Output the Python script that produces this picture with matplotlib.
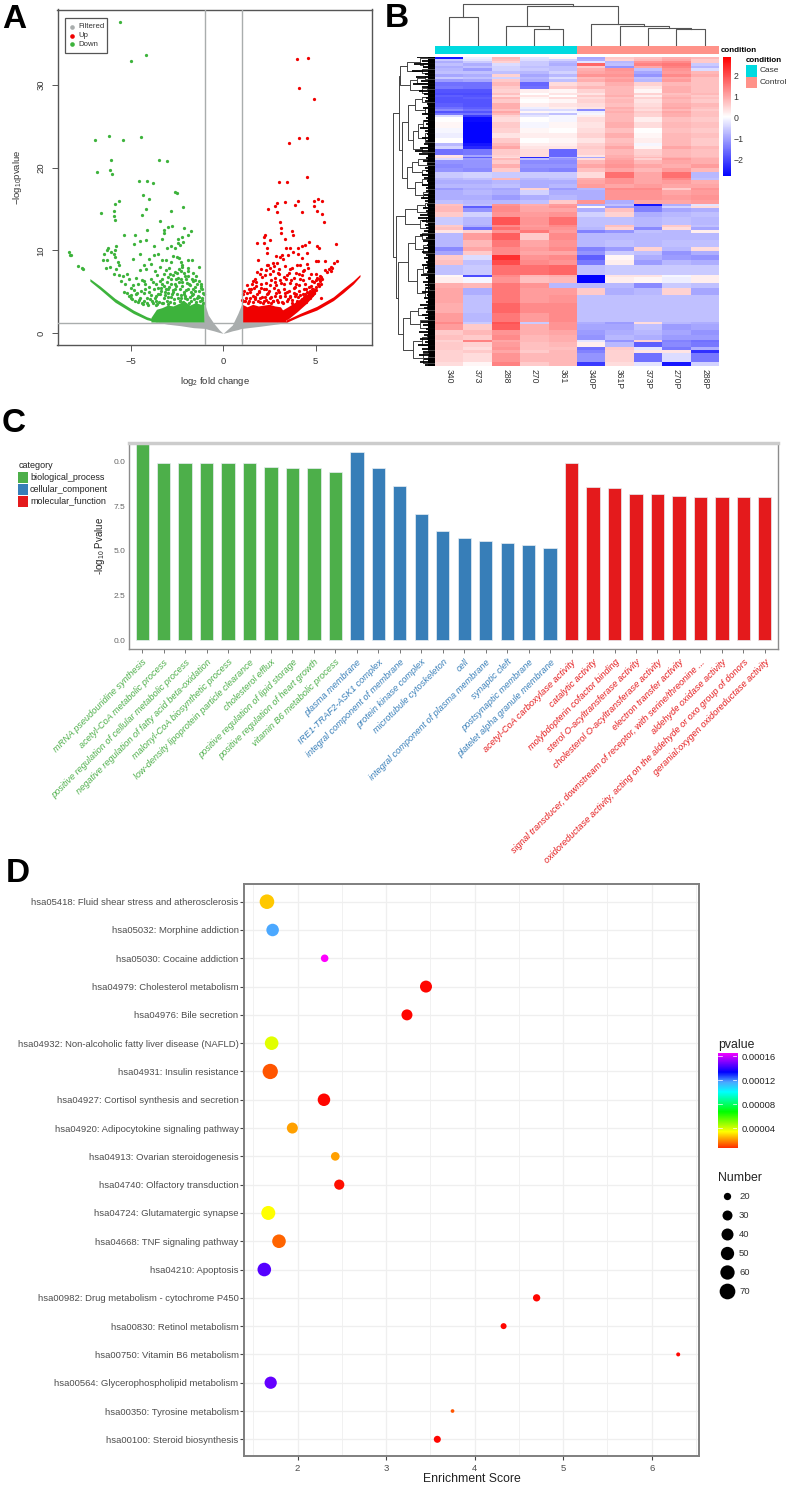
#Four panel figure: volcano, heatmap, GO bars, KEGG bubbles
import numpy as np
import matplotlib
matplotlib.use('Agg')
import matplotlib.pyplot as plt
from matplotlib.colors import LinearSegmentedColormap

plt.rcParams['font.family'] = ['Liberation Sans', 'DejaVu Sans']
plt.rcParams['mathtext.fontset'] = 'custom'
plt.rcParams['mathtext.rm'] = 'Liberation Sans'
plt.rcParams['axes.unicode_minus'] = True

W, H = 798, 1487

# ---- A: volcano ----
down_x = [-5.55,-4.14,-4.99,-6.18,-4.45,-6.9,-5.42,-6.04,-3.44,-3.01,-6.81,-6.09,-6.0,-4.54,-4.13,-3.8,-2.59,-2.47,-4.31,-4.0,
          -5.6,-5.86,-2.16,-4.14,-2.79,-5.89,-6.59,-4.38,-5.87,-5.82,-3.39,-2.74,-2.95,-3.19,-4.11,-2.11,-1.75,-1.87,-2.2,-5.37,
          -4.74,-3.2,-3.32,-4.18,-4.47,-2.45,-2.45,-4.79,-3.73,-5.8,-5.84,-6.2,-2.79,-2.18,-2.32,-2.59,-3.05,-6.3,-6.05,-6.45,
          -5.9,-5.85,-6.5,-6.25,-5.7,-4.85,-4.5,-4.0,-3.75,-3.5,-3.3,-3.1,-2.8,-2.7,-2.5,-2.4,-2.3,-2.2,-1.9,-1.7,
          -1.3,-6.35,-6.1,-5.8,-5.6,-5.9,-5.6,-5.4,-5.2,-5.1,-5.5,-5.3,-5.0,-4.8,-4.5,-4.3,-4.15,-3.9,-3.7,-3.4,
          -3.2,-3.0,-2.9,-2.6,-2.4,-2.1,-1.9,-1.5,-1.2,-1.6,-1.9,-2.2,-4.7,-4.4,-4.2,-4.0,-3.8,-3.5,-3.3,-3.1,
          -2.8,-2.6,-2.4,-2.2,-2.0,-1.8,-1.5,-1.2,-5.2,-5.0,-4.7,-4.5,-4.3,-4.1,-3.9,-3.7,-3.4,-3.2,-3.0,-2.8,
          -2.5,-2.3,-2.1,-1.8,-1.6,-1.3,-1.1,-4.9,-4.6,-4.35,-4.1,-3.8,-3.6,-5.35,-4.85,-8.32,-8.29,-8.2,-7.86,-7.64,
          -7.57,-3.35,-3.0,-2.7,-2.55,-2.25,-1.95,-1.65,-1.4,-1.15,-2.65,-2.35,-2.05,-1.75,-3.65,-3.25,-2.95]
down_y = [37.55,33.57,32.8,23.8,23.68,23.28,23.36,20.87,20.87,20.83,19.5,19.7,19.2,18.38,18.38,18.17,17.09,16.89,16.73,16.16,
          15.92,15.6,15.28,15.04,14.72,14.8,14.52,14.31,14.2,13.67,13.5,12.95,12.87,12.46,12.5,12.7,12.3,11.8,11.66,11.86,
          11.86,12.06,11.4,11.26,11.1,11.4,10.86,10.74,10.57,10.5,10.05,10.3,10.53,11.06,10.66,10.25,10.25,10.0,9.85,9.6,
          9.6,9.2,8.8,8.85,8.6,9.0,9.6,9.0,9.5,9.6,8.9,8.8,8.6,9.3,9.2,9.1,8.6,8.2,8.9,8.8,
          8.0,7.9,8.0,7.7,8.3,7.2,7.0,6.9,7.1,6.6,6.3,5.9,5.5,5.2,7.6,8.3,7.8,8.4,7.5,8.0,
          7.2,6.8,7.9,7.4,7.8,7.3,6.9,6.4,6.0,7.3,7.9,8.0,6.7,6.4,5.9,5.6,6.2,5.5,6.0,5.4,
          5.9,5.3,6.2,5.7,5.2,5.8,5.1,5.5,4.9,4.6,4.7,4.3,4.9,4.3,4.6,4.2,4.7,4.3,4.9,4.4,
          4.8,4.3,4.7,4.4,4.8,4.4,4.9,4.1,3.8,3.5,3.7,3.6,3.9,5.0,5.8,9.77,9.45,9.45,8.1,7.84,
          7.72,5.1,5.3,5.0,6.6,6.5,6.1,5.4,4.2,4.0,4.1,3.9,4.2,3.9,3.4,3.6,3.5]
# the crowded lower part of the cloud
down_x2 = [-4.95,-4.75,-4.55,-4.4,-4.25,-4.05,-3.95,-3.85,-3.65,-3.55,-3.45,-3.3,-3.15,-3.05,-2.95,-2.85,-2.75,-2.65,-2.45,-2.35,
           -2.25,-2.15,-2.05,-1.95,-1.85,-1.7,-1.55,-1.45,-1.35,-1.25,-1.15,-1.08,-5.1,-4.65,-4.45,-4.2,-3.98,-3.72,-3.52,-3.38,
           -3.12,-2.92,-2.72,-2.52,-2.32,-2.12,-1.92,-1.72,-1.52,-1.32,-1.12,-4.58,-4.28,-3.92,-3.62,-3.42,-3.22,-3.02,-2.82,-2.62,
           -2.42,-2.22,-2.02,-1.82,-1.62,-1.42,-1.22,-1.05,-2.88,-2.68,-2.48,-2.28,-2.08,-1.88,-1.68,-1.48,-1.28,-3.58,-3.28,-3.08]
down_y2 = [4.3,3.9,4.0,3.7,3.9,3.4,4.1,3.9,4.5,3.5,3.8,3.6,4.6,3.9,4.4,3.8,4.7,3.7,4.3,3.9,
           4.6,3.8,4.5,4.1,3.7,4.6,4.1,3.8,4.5,3.9,4.3,3.7,4.5,4.9,5.1,5.3,5.0,5.3,4.8,5.5,
           5.0,5.6,5.2,5.7,5.4,5.0,5.4,5.0,5.6,5.1,5.3,6.0,6.3,6.6,5.9,6.3,5.7,6.2,6.5,6.0,
           6.7,6.2,6.6,6.0,6.3,5.9,5.7,4.8,7.1,7.0,7.3,7.5,6.9,7.5,6.6,6.9,6.3,7.0,6.6,7.6]
up_x = [3.98,4.59,4.09,4.94,4.11,4.54,3.57,4.56,3.01,3.44,5.14,4.94,5.35,4.04,3.37,2.92,3.87,2.81,4.9,2.41,
        2.9,4.25,5.1,5.37,5.44,3.08,3.14,3.73,3.15,3.8,2.27,2.22,6.1,1.86,2.23,2.54,3.35,4.67,4.45,4.25,
        5.06,5.17,3.41,3.62,3.77,2.36,2.36,4.04,4.07,3.17,2.86,3.08,3.53,4.52,4.25,3.26,1.91,6.18,5.03,5.15,
        5.51,2.94,2.72,2.36,2.03,5.98,5.84,5.75,5.64,5.51,1.85,2.3,2.55,2.75,3.0,3.35,3.6,3.95,4.15,4.3,
        4.6,4.75,5.0,5.1,5.25,5.35,5.3,5.05,4.9,5.2,2.1,1.6,1.3,1.5,1.8,2.05,2.3,2.55,2.8,3.1,
        3.3,3.6,3.9,4.1,4.3,4.5,4.75,1.1,1.3,1.6,1.85,2.1,2.35,2.6,2.85,3.1,3.35,3.6,3.85,4.05,
        4.3,4.55,4.8,1.05,1.4,1.7,2.0,2.3,2.6,2.9,3.2,3.5,3.75,4.0,4.25,4.5,4.7,4.9,5.0,5.3,
        5.85,5.9,1.45,1.95,2.45,2.95,3.45,3.95,4.4,4.65,4.85,5.0,5.15,1.2,1.75,2.2,2.7]
up_y = [33.1,33.2,29.6,28.3,23.5,23.6,22.9,18.8,18.3,18.3,16.2,16.0,15.9,15.9,15.8,15.7,15.5,15.3,15.4,15.0,
        14.6,14.6,14.8,14.35,13.4,13.4,12.7,12.3,12.1,11.9,11.8,11.6,10.8,10.9,10.9,11.3,11.4,11.0,10.7,10.5,
        10.5,10.3,10.3,10.3,9.85,10.25,9.73,10.25,9.57,9.45,9.37,9.25,9.45,9.65,9.05,8.93,8.85,8.73,8.73,8.73,
        8.73,8.44,8.44,8.2,7.8,8.5,8.04,7.7,7.44,7.64,7.4,7.6,7.9,8.1,7.8,8.1,7.7,7.3,8.3,7.5,
        7.9,7.2,7.2,6.7,6.9,6.5,6.0,6.4,6.2,5.7,6.8,6.3,5.8,5.4,5.7,5.5,5.3,5.8,6.2,6.4,
        5.9,6.1,5.6,5.8,6.4,5.4,5.7,4.8,4.9,4.5,4.8,4.4,4.7,4.4,4.9,4.5,4.9,4.5,4.9,4.4,
        4.7,5.0,4.6,4.0,3.9,4.1,3.8,4.0,3.7,4.0,3.8,4.1,3.7,3.9,3.5,3.8,4.2,4.9,5.2,4.3,
        7.5,7.9,5.0,5.1,4.9,5.2,5.0,4.8,4.4,4.9,5.3,5.6,5.9,3.9,4.3,3.95,3.85]
up_x2 = [1.08,1.22,1.35,1.48,1.62,1.75,1.88,2.02,2.15,2.28,2.42,2.55,2.68,2.82,2.95,3.08,3.22,3.35,3.48,3.62,
         3.75,3.88,4.02,4.15,4.28,4.42,4.55,4.68,4.82,1.15,1.42,1.68,1.95,2.22,2.48,2.75,3.02,3.28,3.55,3.82,
         4.08,4.35,4.62,1.55,1.8,2.05,2.32,2.58,2.85,3.12,3.38,3.65,3.92,4.18,4.45,5.12,5.22,1.72,1.98,2.25,
         2.52,2.78,3.05,3.32,3.58,3.85,4.12,4.38,4.62,5.18,5.28,2.42,2.68,2.98,3.45,3.72,3.98,4.25,4.52,4.78]
up_y2 = [3.9,4.3,3.7,4.2,3.8,4.4,3.9,4.2,3.7,4.4,3.8,4.3,3.9,4.5,3.8,4.4,3.7,4.5,3.9,4.4,
         4.0,4.5,3.8,4.6,4.1,4.7,4.4,5.1,5.3,5.1,5.3,5.5,5.0,5.4,5.1,5.5,5.0,5.3,5.1,5.5,
         5.1,5.4,5.6,6.0,6.2,5.9,6.1,6.4,5.8,6.1,6.5,6.4,6.0,6.6,6.0,5.9,6.3,6.6,7.1,7.0,
         7.2,6.7,7.1,6.8,7.3,6.7,7.1,7.6,6.7,6.6,6.8,8.2,7.5,7.3,7.0,7.9,8.3,7.0,8.4,6.3]
# dense parts of the cloud, as boundaries
down_mass_x = [-3.9,-3.6,-3.3,-3.0,-2.7,-2.4,-2.1,-1.8,-1.5,-1.2,-1.03]
down_mass_top = [1.9,2.9,3.1,3.4,3.3,3.6,3.9,3.4,3.7,3.5,3.9]
down_tail_x = [-7.2,-6.65,-5.84,-4.85,-4.13,-3.58]
down_tail_low = [6.3,5.3,3.75,2.4,1.65,1.36]
down_tail_up = [6.6,5.7,4.2,2.8,2.0,1.6]
up_mass_x = [1.03,1.3,1.6,1.9,2.2,2.5,2.8,3.1,3.4]
up_mass_top = [3.5,3.2,3.5,3.3,3.4,3.5,3.3,3.2,2.2]
up_band_x = [2.9,3.5,4.0,4.5,5.0]
up_band_low = [1.4,1.7,2.6,3.6,4.8]
up_band_up = [2.4,3.2,3.9,4.7,5.5]
up_tail_x = [3.4,4.16,5.06,5.96,6.5,7.04,7.4]
up_tail_low = [1.3,2.05,2.8,3.95,4.9,5.95,6.85]
up_tail_up = [1.6,2.4,3.25,4.4,5.4,6.35,7.1]
grey_x = [-3.6,-3,-2.3,-1.6,-1.05,-1.0,-0.8,-0.5,-0.2,0,0.2,0.5,0.8,1.0,1.05,2,3,3.5]
grey_low = [1.36,1.1,0.92,0.68,0.6,0.6,0.47,0.3,0.1,0,0.1,0.3,0.45,0.6,0.6,0.85,1.15,1.36]
grey_up = [1.4,1.4,1.4,1.4,1.4,3.6,2.2,1.2,0.4,0,0.4,1.0,2.4,3.5,1.4,1.4,1.4,1.4]

# ---- B: heatmap ----
samples = ['340','373','288','270','361','340P','361P','373P','270P','288P']
band_genes = [7,6,7,8,7,8,10,7,8,7,12,11,10,6,8,6,12,10,8,6,6,5,7,15,18,15,15,15,9,8,19,5,4,5,12,11,12,20,4,14,12,6,14,15,12,
              6,7,12,13,25,7,8,10,20,20,12,13,15,15,30,5,20,15,20,25,30,25,8,17,15,15,6,14,10,10,25,13]
heat = [[-2.6,-0.2,0.8,-0.3,0.1,-1.0,0.6,0.7,0.9,0.8],
        [-0.6,-0.3,0.7,-0.4,-0.5,-0.9,0.5,0.8,1.0,0.6],
        [-0.9,-0.6,0.5,-0.6,-0.8,-0.3,-0.8,1.2,1.3,0.6],
        [-0.7,-0.9,-0.4,-0.6,-0.9,1.7,-0.7,1.4,1.5,-0.6],
        [-0.9,-0.7,-0.5,-0.7,-0.7,0.6,-1.2,1.0,1.4,-0.8],
        [-0.8,-1.1,-0.5,-0.6,-0.7,0.9,1.2,-0.7,1.2,-0.4],
        [-0.7,-0.7,-0.7,-0.8,-0.5,1.0,1.1,-1.0,1.1,0.8],
        [-1.0,-0.9,0.5,-1.0,-0.8,1.2,1.2,-1.2,1.3,0.9],
        [-0.6,-0.7,-0.5,-0.8,-0.4,0.8,1.0,-0.7,1.0,0.7],
        [-1.1,-1.0,0.6,-0.9,-0.7,0.9,1.1,-0.8,1.1,0.7],
        [-1.6,-1.6,0.8,-1.7,0.4,0.6,0.9,0.5,0.8,0.7],
        [-1.5,-1.6,0.6,-1.6,0.6,0.8,0.8,0.3,0.9,0.7],
        [-1.9,-1.9,0.5,0.2,0.1,0.5,0.8,0.1,0.9,0.7],
        [-2.0,-2.0,0.7,0.0,0.3,0.3,0.8,0.5,0.7,0.8],
        [-1.8,-1.9,0.4,0.3,0.0,0.6,0.9,0.2,0.8,0.6],
        [-1.9,-1.8,0.8,0.1,0.4,0.4,0.7,0.5,0.9,0.7],
        [-1.9,-1.9,0.6,0.0,0.1,0.5,0.8,0.3,0.8,0.6],
        [-1.8,-1.9,0.9,0.2,0.3,0.4,0.7,0.4,0.9,0.8],
        [-1.6,-1.8,0.9,-0.2,0.2,0.3,0.9,0.5,1.0,0.7],
        [-1.3,-1.6,0.7,-0.4,-0.4,-1.3,0.8,0.4,0.8,0.6],
        [-1.9,-1.9,1.0,0.1,-0.1,-0.2,0.9,0.6,1.0,0.7],
        [-1.5,-1.6,0.8,-0.5,-0.7,-0.1,0.8,0.5,0.9,0.7],
        [-0.4,-2.2,0.5,-0.3,-0.1,0.2,0.8,0.5,0.9,0.7],
        [0.0,-2.7,0.4,0.0,-0.1,0.4,0.8,0.2,0.7,0.6],
        [0.1,-2.8,0.6,-0.1,0.1,0.3,0.9,0.4,0.8,0.7],
        [-0.1,-2.8,0.5,0.1,0.0,0.4,0.7,0.0,0.7,0.6],
        [-0.2,-2.8,0.3,0.2,0.2,0.5,0.9,0.1,0.8,0.7],
        [0.0,-2.8,0.6,0.0,0.1,0.3,0.7,0.2,0.8,0.6],
        [-0.8,-2.6,0.8,0.2,0.2,0.5,0.8,-0.1,0.8,0.6],
        [-0.5,-2.4,1.0,0.3,0.3,0.6,1.0,0.1,1.0,0.8],
        [-1.6,-1.5,0.6,0.4,-1.7,0.5,0.8,0.5,0.8,0.7],
        [0.3,-1.0,0.5,0.4,-1.7,0.3,0.9,0.6,0.8,0.7],
        [0.4,-1.8,0.4,-2.4,-0.9,-1.0,0.9,0.8,0.9,0.8],
        [-0.4,-1.1,0.8,-0.7,-1.2,0.4,1.0,0.5,1.1,0.9],
        [-1.2,-1.2,0.6,-1.3,-1.3,0.8,1.1,0.8,1.0,0.9],
        [-1.3,-1.2,0.9,-1.2,-1.2,1.0,1.2,1.0,0.9,1.1],
        [-1.2,-1.3,0.6,-1.3,-1.4,0.7,1.0,0.8,1.1,0.8],
        [-0.6,-0.5,-0.6,-0.6,-0.6,0.4,1.6,1.0,1.6,-0.8],
        [-0.8,-0.7,0.8,-0.8,-0.7,0.9,1.2,1.0,1.3,-0.7],
        [-0.9,-0.9,-0.8,-0.9,-0.9,1.0,1.2,1.0,1.1,0.9],
        [-0.8,-0.8,-0.7,-0.9,-0.8,1.1,1.0,1.1,1.0,1.0],
        [-1.1,-0.9,-1.0,0.5,-1.1,-0.8,1.3,1.3,0.6,1.2],
        [-0.9,-0.8,-0.9,-0.5,-0.9,-0.9,1.2,1.2,1.0,1.1],
        [-0.9,-0.9,-1.1,-0.9,-0.8,-0.9,1.2,1.2,1.1,1.2],
        [-0.7,-0.8,-0.8,-0.7,0.6,1.2,-0.9,1.0,1.0,1.1],
        [0.7,-0.7,1.2,0.9,1.1,-0.9,-0.7,-2.6,-0.9,-0.3],
        [0.8,-1.8,1.3,1.0,1.2,0.1,-1.1,-1.4,-0.5,0.4],
        [0.8,-1.2,1.3,1.0,1.0,-0.9,0.7,-1.4,-1.0,-0.9],
        [0.6,-0.5,1.2,1.1,1.2,-0.5,0.5,-0.9,-0.8,-0.7],
        [-0.6,-0.8,1.9,1.2,1.6,-0.7,-0.7,-0.8,-0.7,-0.8],
        [0.6,-0.9,1.3,1.1,1.3,-0.7,0.7,-0.8,0.6,-0.7],
        [0.7,-1.6,1.6,1.2,1.2,-0.8,0.5,-1.3,0.4,-1.0],
        [0.3,0.5,1.2,1.5,1.1,-1.4,-1.2,-0.7,-0.8,0.2],
        [-0.8,1.1,1.8,0.6,1.3,-0.8,-0.8,-0.8,-0.8,-0.8],
        [-0.8,0.8,1.5,1.0,1.2,-0.8,-0.7,-0.8,-0.7,-0.7],
        [-1.3,1.0,1.3,1.1,1.3,-1.4,-1.1,0.5,-0.8,0.4],
        [-1.0,0.6,1.3,1.0,1.0,-1.2,-0.6,-0.7,-1.2,-0.9],
        [0.6,-0.4,2.3,1.2,1.3,-1.8,0.1,-0.9,-1.1,-1.2],
        [0.7,-0.7,2.0,1.3,1.2,-1.5,0.2,-1.1,-0.8,-0.9],
        [-0.7,-0.6,1.6,1.6,1.7,-0.7,-0.6,-0.6,-0.6,-0.6],
        [0.1,-2.0,1.3,0.8,0.9,-2.9,0.3,0.3,-0.1,0.2],
        [0.2,-0.1,1.2,0.7,0.8,-2.9,0.2,0.1,-0.2,0.2],
        [0.9,0.8,1.5,1.2,-0.8,-0.8,-0.8,-1.3,-0.6,-0.7],
        [1.0,-0.9,1.5,1.1,1.1,0.6,-0.9,-0.8,0.5,-1.0],
        [1.0,-0.7,1.5,1.1,1.2,-0.7,-0.7,-0.7,-0.7,-0.7],
        [0.9,-0.7,1.7,1.3,1.3,-0.7,-0.7,-0.7,-0.7,-0.7],
        [1.1,-0.8,1.5,1.1,1.3,-0.7,-0.7,-0.7,-0.7,-0.7],
        [1.3,-0.6,1.9,-0.6,1.2,-0.9,-1.1,0.4,-0.8,-0.9],
        [1.1,0.6,1.8,0.9,1.2,-1.0,-1.0,-0.7,-1.1,-1.0],
        [0.6,0.8,1.2,0.9,1.0,-1.1,-0.9,-0.8,-1.0,-1.2],
        [0.7,0.6,1.3,0.8,0.9,-1.2,-0.8,-0.9,-1.1,-1.1],
        [0.5,1.4,1.0,0.8,0.9,-0.3,-1.2,0.5,-1.4,-1.6],
        [0.6,0.5,1.1,0.7,0.8,0.2,-0.8,-1.8,-1.3,-1.5],
        [0.6,0.4,1.2,0.7,0.7,-1.6,0.6,-0.3,-1.5,-0.9],
        [0.5,0.6,1.0,0.6,0.8,-1.4,0.5,0.3,0.3,-2.3],
        [0.5,0.4,1.2,0.8,0.8,-1.2,0.5,-1.6,-0.4,-1.5],
        [0.4,0.1,1.4,0.6,0.8,-2.2,0.4,-0.3,-2.6,-0.5]]
# (height, left, right); a plain number is a leaf
col_tree = (42,(28.7,0,1),(40.3,(20,2,(17,3,4)),(22.3,5,(20.3,6,(18.3,7,(16.7,8,9))))))
row_tree = (125,
    (107,(105,(85,(45,5,(35,18,30)),(40,38,50)),(75,(55,(30,58,68),78),(40,(25,88,98),108))),
         (100,(80,(60,(40,120,135),(30,150,170)),(65,(50,(35,190,215),(30,230,255)),(40,270,285))),
              (85,(70,(50,(25,300,315),325),(40,340,352)),(60,(40,(25,360,372),385),(35,(22,398,412),425))))),
    (118,(90,(55,(30,440,452),(25,462,472)),(45,(28,482,495),(22,505,520))),
         (110,(80,(60,(40,530,548),(35,565,590)),(55,(35,(25,615,632),650),(30,(18,680,700),725))),
              (95,(75,(50,(25,745,760),775),(45,790,815)),(65,(40,(25,835,848),865),(35,(22,880,900),918))))))
row_spike_depth = [55,40,62,35,70,30,58,42,66,38,48,34,26,30,24,36,22,40,28,33,26,44,30,24,38,27,34,45,60,48,
                   28,36,24,30,26,40,32,24,38,28,26,34,42,30,24,36,28,44,50,38,30,26,34,46,28,36,24,32,40,28,
                   34,26,38,30,24,42,28,36,30,26,40,24,34,28,46,32,26,38,30,42,36,28,48,34,44,30,52,40,36,48,
                   34,44,30]
cond_colors = ['#00dae0']*5 + ['#ff9289']*5

# ---- C: GO bars ----
go_bp = ['mRNA pseudouridine synthesis','acetyl-CoA metabolic process','positive regulation of cellular metabolic process',
         'negative regulation of fatty acid beta-oxidation','malonyl-CoA biosynthetic process',
         'low-density lipoprotein particle clearance','cholesterol efflux','positive regulation of lipid storage',
         'positive regulation of heart growth','vitamin B6 metabolic process']
go_cc = ['plasma membrane','IRE1-TRAF2-ASK1 complex','integral component of membrane','protein kinase complex',
         'microtubule cytoskeleton','cell','integral component of plasma membrane','synaptic cleft',
         'postsynaptic membrane','platelet alpha granule membrane']
go_mf = ['acetyl-CoA carboxylase activity','catalytic activity','molybdopterin cofactor binding',
         'sterol O-acyltransferase activity','cholesterol O-acyltransferase activity','electron transfer activity',
         'signal transducer, downstream of receptor, with serine/threonine ...','aldehyde oxidase activity',
         'oxidoreductase activity, acting on the aldehyde or oxo group of donors','geranial:oxygen oxidoreductase activity']
val_bp = [11.3,9.9,9.9,9.9,9.9,9.9,9.67,9.63,9.63,9.42]
val_cc = [10.5,9.6,8.62,7.05,6.08,5.7,5.55,5.46,5.35,5.18]
val_mf = [9.89,8.57,8.53,8.2,8.2,8.09,8.01,8.01,8.01,8.01]
cat_names = ['biological_process','cellular_component','molecular_function']
cat_colors = ['#4daf4a','#377eb8','#e41a1c']

# ---- D: KEGG bubbles ----
kegg = ['hsa05418: Fluid shear stress and atherosclerosis','hsa05032: Morphine addiction','hsa05030: Cocaine addiction',
        'hsa04979: Cholesterol metabolism','hsa04976: Bile secretion','hsa04932: Non-alcoholic fatty liver disease (NAFLD)',
        'hsa04931: Insulin resistance','hsa04927: Cortisol synthesis and secretion','hsa04920: Adipocytokine signaling pathway',
        'hsa04913: Ovarian steroidogenesis','hsa04740: Olfactory transduction','hsa04724: Glutamatergic synapse',
        'hsa04668: TNF signaling pathway','hsa04210: Apoptosis','hsa00982: Drug metabolism - cytochrome P450',
        'hsa00830: Retinol metabolism','hsa00750: Vitamin B6 metabolism','hsa00564: Glycerophospholipid metabolism',
        'hsa00350: Tyrosine metabolism','hsa00100: Steroid biosynthesis']
score = [1.653,1.717,2.305,3.45,3.235,1.706,1.69,2.297,1.94,2.425,2.47,1.668,1.789,1.623,4.70,4.327,6.30,1.695,3.75,3.578]
number = [62,44,21,40,35,53,67,44,35,25,31,57,53,53,20,15,10,42,8,19]
pvalue = [2.6e-5,1.15e-4,1.65e-4,1e-6,1e-6,3.7e-5,1.1e-5,1e-6,2.1e-5,2.1e-5,2e-6,3.3e-5,1.3e-5,1.43e-4,1e-6,1e-6,1e-6,1.45e-4,1.1e-5,1e-6]
legend_numbers = [20,30,40,50,60,70]
legend_diam = [7.3,10,12,13.3,14.3,15.7]


def px_axes(l, t, r, b):
    return fig.add_axes([l/W, 1-b/H, (r-l)/W, (b-t)/H])

def area(d):
    return (np.asarray(d)*72/100.0)**2

fig = plt.figure(figsize=(W/100, H/100), dpi=100, facecolor='white')

# panel A
ax = px_axes(57.5, 9.5, 372, 345)
grey = '#a9adad'
ax.fill_between(grey_x, grey_low, grey_up, color=grey, lw=0, zorder=1)
ax.fill_between(down_mass_x, 1.36, down_mass_top, color='#3db33c', lw=0, zorder=2)
ax.fill_between(down_tail_x, down_tail_low, down_tail_up, color='#3db33c', lw=0, zorder=2)
ax.fill_between(up_mass_x, 1.36, up_mass_top, color='#f00000', lw=0, zorder=2)
ax.fill_between(up_band_x, up_band_low, up_band_up, color='#f00000', lw=0, zorder=2)
ax.fill_between(up_tail_x, up_tail_low, up_tail_up, color='#f00000', lw=0, zorder=2)
ax.scatter(down_x + down_x2, down_y + down_y2, s=5.5, c='#3db33c', lw=0, zorder=3)
ax.scatter(up_x + up_x2, up_y + up_y2, s=5.5, c='#f00000', lw=0, zorder=3)
ax.axvline(-1, color=grey, lw=1, zorder=4)
ax.axvline(1, color=grey, lw=1, zorder=4)
ax.axhline(1.3, color=grey, lw=1, zorder=4)
ax.set_xlim(-8.95, 8.05)
ax.set_ylim(-1.41, 39.06)
ax.set_xticks([-5, 0, 5])
ax.set_yticks([0, 10, 20, 30])
ax.tick_params(labelsize=6.8, length=4, width=0.7, color='#555555', labelcolor='#333333', pad=4.5)
plt.setp(ax.get_yticklabels(), rotation=90, va='center')
for s in ax.spines.values():
    s.set_color('#555555')
    s.set_linewidth(1.0)

# panel B
ax = px_axes(435, 56.7, 719, 366)
edges = np.concatenate([[0], np.cumsum(band_genes)])
cmap_heat = LinearSegmentedColormap.from_list('bwr2', ['#0000ff', '#ffffff', '#ff0000'])
ax.pcolormesh(np.arange(11), edges, np.array(heat), cmap=cmap_heat, vmin=-2.85, vmax=2.85, antialiased=False)
ax.set_ylim(edges[-1], 0)
ax.set_xticks(np.arange(10)+0.5)
ax.set_xticklabels(samples, rotation=-90, fontsize=6.2, color='#333333')
ax.set_yticks([])
ax.tick_params(axis='x', length=0, pad=2)
for s in ax.spines.values():
    s.set_visible(False)

ax = px_axes(435, 46, 719, 54.3)
ax.bar(np.arange(10)+0.5, 1, width=1, color=cond_colors)
ax.set_xlim(0, 10)
ax.set_ylim(0, 1)
ax.axis('off')

def draw_tree(a, node, vertical):
    if not isinstance(node, tuple):
        return node, 0
    h, c1, c2 = node
    p1, h1 = draw_tree(a, c1, vertical)
    p2, h2 = draw_tree(a, c2, vertical)
    if vertical:
        a.plot([p1, p1, p2, p2], [h1, h, h, h2], color='#555555', lw=0.8)
    else:
        a.plot([h1, h, h, h2], [p1, p1, p2, p2], color='#444444', lw=0.7)
    return (p1+p2)/2, h

ax = px_axes(435, 0, 719, 46)
draw_tree(ax, col_tree, True)
ax.set_xlim(-0.5, 9.5)
ax.set_ylim(0, 46)
ax.axis('off')

ax = px_axes(393, 56.7, 435, 366)
draw_tree(ax, row_tree, False)
spike_rows = np.linspace(2, edges[-1]-2, len(row_spike_depth))
ax.axvspan(0, 20, color='black', lw=0)
ax.hlines(spike_rows, 0, row_spike_depth, color='black', lw=1.3)
ax.set_xlim(126, 0)
ax.set_ylim(edges[-1], 0)
ax.axis('off')

ax = px_axes(722.7, 56.7, 730.7, 176)
grad = np.linspace(2.87, -2.8, 120)[:, None]
ax.imshow(grad, cmap=cmap_heat, vmin=-2.85, vmax=2.85, aspect='auto', extent=[0, 1, -2.8, 2.87])
ax.set_xticks([])
ax.yaxis.tick_right()
ax.set_yticks([-2, -1, 0, 1, 2])
ax.tick_params(axis='y', length=0, labelsize=6.3, labelcolor='#333333', pad=2)
for s in ax.spines.values():
    s.set_visible(False)

# panel C
ax = px_axes(129.4, 442.7, 777.5, 649.3)
go_vals = val_bp + val_cc + val_mf
go_names = go_bp + go_cc + go_mf
go_cols = [cat_colors[0]]*10 + [cat_colors[1]]*10 + [cat_colors[2]]*10
ax.bar(np.arange(30), go_vals, width=0.62, color=go_cols, edgecolor='#e8eef2', linewidth=0.5)
ax.set_xlim(-0.596, 29.59)
ax.set_ylim(-0.5, 11.04)
ax.set_xticks(np.arange(30))
ax.set_xticklabels(go_names, rotation=45, ha='right', va='top', rotation_mode='anchor', fontsize=6.55, style='italic')
for lab, c in zip(ax.get_xticklabels(), go_cols):
    lab.set_color(c)
ax.set_yticks([0, 2.5, 5, 7.5, 10])
ax.set_yticklabels(['0.0', '2.5', '5.0', '7.5', '0.0'])
ax.tick_params(axis='y', length=0, labelsize=6, labelcolor='#666666', pad=3)
ax.tick_params(axis='x', length=3, width=0.7, color='#777777', pad=3)
for s in ax.spines.values():
    s.set_color('#8c8c8c')
    s.set_linewidth(1.0)
ax.spines['top'].set_color('#cccccc')
ax.spines['top'].set_linewidth(2.5)

# panel D
ax = px_axes(244.3, 884.3, 699, 1456)
cmap_p = LinearSegmentedColormap.from_list('rb', [(0, '#ff0000'), (0.2, '#ffff00'), (0.4, '#00ff00'), (0.6, '#00ffff'),
                                                  (0.7, '#4da6ff'), (0.8, '#0000ff'), (1, '#ff00ff')])
rows = np.arange(len(kegg))
diam = np.interp(number, [8, 10, 15] + legend_numbers, [3.7, 4, 6] + legend_diam)
ax.set_axisbelow(True)
ax.grid(True, which='major', color='#efefef', lw=0.9)
ax.set_xticks(np.arange(1.5, 7, 1), minor=True)
ax.grid(True, which='minor', axis='x', color='#efefef', lw=0.6)
ax.scatter(score, rows, s=area(diam), c=pvalue, cmap=cmap_p, vmin=0, vmax=1.65e-4, lw=0, zorder=3)
ax.set_xlim(1.397, 6.535)
ax.set_ylim(19.59, -0.615)
ax.set_xticks([2, 3, 4, 5, 6])
ax.set_yticks(rows)
ax.set_yticklabels(kegg)
ax.tick_params(axis='both', which='major', labelsize=6.8, length=2.6, width=0.8, color='#444444', labelcolor='#4d4d4d', pad=1.5)
ax.tick_params(axis='x', which='major', pad=3)
ax.tick_params(axis='x', which='minor', length=0)
for s in ax.spines.values():
    s.set_color('#7f7f7f')
    s.set_linewidth(1.4)

ax = px_axes(717.7, 1053.3, 737, 1148.3)
grad = np.linspace(1.645e-4, 0.66e-5, 150)[:, None]
ax.imshow(grad, cmap=cmap_p, vmin=0, vmax=1.65e-4, aspect='auto', extent=[0, 1, 0.66e-5, 1.645e-4])
ax.set_xticks([])
ax.yaxis.tick_right()
ax.set_yticks([4e-5, 8e-5, 1.2e-4, 1.6e-4])
ax.set_yticklabels(['0.00004', '0.00008', '0.00012', '0.00016'])
ax.tick_params(axis='y', length=0, labelsize=6.8, labelcolor='#222222', pad=3)
for v in [4e-5, 8e-5, 1.2e-4, 1.6e-4]:
    ax.plot([0, 0.2], [v, v], color='white', lw=0.5)
    ax.plot([0.8, 1], [v, v], color='white', lw=0.5)
for s in ax.spines.values():
    s.set_visible(False)

# overlay for free standing text and legends, in picture pixels
ov = fig.add_axes([0, 0, 1, 1], facecolor='none')
ov.set_xlim(0, W)
ov.set_ylim(H, 0)
ov.axis('off')

def T(x, y, s, **kw):
    kw.setdefault('va', 'center')
    kw.setdefault('ha', 'left')
    ov.text(x, y, s, **kw)

for x, y, s in [(2, 28, 'A'), (385, 27, 'B'), (2, 432, 'C'), (6, 882, 'D')]:
    T(x, y, s, fontsize=24, fontweight='bold', va='baseline', color='black')

# A labels and legend
T(215, 382, r'log$_{\mathregular{2}}$ fold change', ha='center', fontsize=6.8, color='#333333')
T(17.7, 177, r'$-$log$_{\mathregular{10}}$pvalue', ha='center', rotation=90, fontsize=6.8, color='#333333')
ov.add_patch(plt.Rectangle((65.3, 17.7), 42, 35, fc='white', ec='#555555', lw=0.9, zorder=5))
for y, c, s in [(26.7, grey, 'Filtered'), (35.7, '#f00000', 'Up'), (44.3, '#3db33c', 'Down')]:
    ov.scatter([72], [y], s=11, c=c, lw=0, zorder=6)
    T(78.7, y, s, fontsize=5.6, color='#333333', zorder=6)

# B legend
T(721, 50.7, 'condition', fontsize=5.8, fontweight='bold')
T(746, 60, 'condition', fontsize=5.8, fontweight='bold')
ov.add_patch(plt.Rectangle((746, 65.3), 11, 11.4, fc='#00dae0', lw=0))
ov.add_patch(plt.Rectangle((746, 77), 11, 11, fc='#ff9289', lw=0))
T(760, 71, 'Case', fontsize=6.0, color='#333333')
T(760, 83, 'Control', fontsize=6.0, color='#333333')

# C legend
T(18.4, 466, 'category', fontsize=6.5, color='#222222')
for y, c, s in zip([472, 484, 495.5], cat_colors, cat_names):
    ov.add_patch(plt.Rectangle((18.4, y), 9.6, 11, fc=c, lw=0))
    T(30, y+5.5, s, fontsize=6.5, color='#222222')
T(100, 546, r'-log$_{\mathregular{10}}$ Pvalue', ha='center', rotation=90, fontsize=7, color='#222222')

# D legend
T(471.7, 1479, 'Enrichment Score', ha='center', fontsize=8.8, color='#222222')
T(717.7, 1045, 'pvalue', fontsize=8.8, color='#222222')
T(718, 1178, 'Number', fontsize=8.8, color='#222222')
for i, (n, d) in enumerate(zip(legend_numbers, legend_diam)):
    y = 1196.3 + 19*i
    ov.scatter([727], [y], s=area(d), c='black', lw=0)
    T(739, y, str(n), fontsize=6.8, color='#333333')

fig.savefig('out.png', dpi=100, facecolor='white')
